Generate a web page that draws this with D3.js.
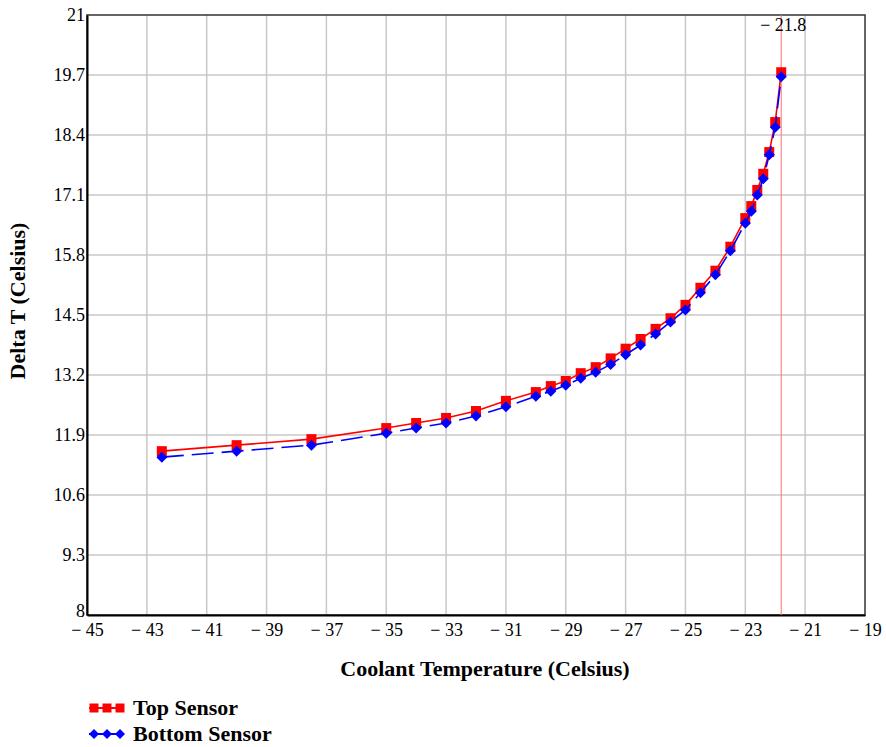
<!DOCTYPE html>
<html>
<head>
<meta charset="utf-8">
<script src="https://cdn.jsdelivr.net/npm/d3@7"></script>
<style>
  html, body { margin: 0; padding: 0; background: #fff; }
  svg { display: block; }
</style>
</head>
<body>
<svg id="chart" width="886" height="747"></svg>
<script>
// Coolant temperature readings (°C)
const coolant = [-42.5, -40, -37.5, -35, -34, -33, -32, -31, -30, -29.5, -29, -28.5, -28, -27.5, -27,
  -26.5, -26, -25.5, -25, -24.5, -24, -23.5, -23, -22.8, -22.6, -22.4, -22.2, -22.0, -21.8];
// Delta T measured by each sensor (°C)
const topSensor = [11.55, 11.68, 11.81, 12.05, 12.16, 12.27, 12.42, 12.64, 12.83, 12.96, 13.07, 13.24, 13.37, 13.56, 13.77,
  13.98, 14.20, 14.43, 14.72, 15.09, 15.46, 15.98, 16.60, 16.86, 17.21, 17.56, 18.03, 18.68, 19.76];
const bottomSensor = [11.42, 11.55, 11.68, 11.94, 12.05, 12.16, 12.31, 12.51, 12.74, 12.85, 12.98, 13.13, 13.26, 13.43, 13.64,
  13.85, 14.09, 14.35, 14.61, 14.98, 15.37, 15.89, 16.49, 16.75, 17.10, 17.45, 17.97, 18.57, 19.66];
// Axis ticks
const xTicks = [-45, -43, -41, -39, -37, -35, -33, -31, -29, -27, -25, -23, -21, -19];
const yTicks = [8, 9.3, 10.6, 11.9, 13.2, 14.5, 15.8, 17.1, 18.4, 19.7, 21];
// Marker line
const markerX = -21.8;
const seriesNames = ["Top Sensor", "Bottom Sensor"];

const FONT = "'Liberation Serif', 'DejaVu Serif', serif";

const svg = d3.select("#chart").attr("font-family", FONT);
const m = { left: 87, right: 865, top: 15, bottom: 615 };

const x = d3.scaleLinear().domain([-45, -19]).range([m.left, m.right]);
const y = d3.scaleLinear().domain([8, 21]).range([m.bottom, m.top]);

const fmtX = v => v < 0 ? "\u2212 " + Math.abs(v) : String(v);

// Grid lines
const grid = svg.append("g");
grid.selectAll(".gx").data(xTicks.slice(1, -1)).join("line")
  .attr("x1", d => x(d)).attr("x2", d => x(d))
  .attr("y1", m.top).attr("y2", m.bottom)
  .attr("stroke", "#c8c8c8").attr("stroke-width", 1.5);
grid.selectAll(".gy").data(yTicks.slice(1, -1)).join("line")
  .attr("x1", m.left).attr("x2", m.right)
  .attr("y1", d => y(d)).attr("y2", d => y(d))
  .attr("stroke", "#c8c8c8").attr("stroke-width", 1.5);

// Frame
svg.append("rect")
  .attr("x", m.left).attr("y", m.top)
  .attr("width", m.right - m.left).attr("height", m.bottom - m.top)
  .attr("fill", "none").attr("stroke", "#333").attr("stroke-width", 1.5);

// Axes (labels only; grid carries the tick positions)
const xAxis = svg.append("g").attr("transform", `translate(0,${m.bottom})`)
  .call(d3.axisBottom(x).tickValues(xTicks).tickSize(0).tickPadding(8).tickFormat(fmtX))
  .attr("font-family", FONT).attr("font-size", 18);
xAxis.select(".domain").attr("stroke", "#000").attr("stroke-width", 2);
xAxis.selectAll("text").attr("fill", "#000");

const yAxis = svg.append("g").attr("transform", `translate(${m.left},0)`)
  .call(d3.axisLeft(y).tickValues(yTicks).tickSize(0).tickPadding(2).tickFormat(d => String(d)))
  .attr("font-family", FONT).attr("font-size", 18);
yAxis.select(".domain").attr("stroke", "#000").attr("stroke-width", 2);
yAxis.selectAll("text").attr("fill", "#000");
yAxis.selectAll(".tick").filter(d => d === 8).select("text").attr("dy", "0.1em");

// Vertical marker at -21.8
svg.append("line")
  .attr("x1", x(markerX)).attr("x2", x(markerX))
  .attr("y1", m.top).attr("y2", m.bottom)
  .attr("stroke", "#ff7070").attr("stroke-width", 1);
svg.append("text")
  .attr("x", x(markerX) + 2).attr("y", y(21) + 16)
  .attr("text-anchor", "middle").attr("font-size", 18)
  .text(fmtX(markerX));

const line = d3.line().x(d => x(d[0])).y(d => y(d[1]));
const topPts = coolant.map((c, i) => [c, topSensor[i]]);
const botPts = coolant.map((c, i) => [c, bottomSensor[i]]);

const squarePath = s => `M${-s},${-s}H${s}V${s}H${-s}Z`;
const diamondPath = s => `M0,${-s}L${s},0L0,${s}L${-s},0Z`;

// Top sensor
svg.append("path").datum(topPts).attr("d", line)
  .attr("fill", "none").attr("stroke", "#ff0000").attr("stroke-width", 1.6);
svg.append("g").selectAll("path").data(topPts).join("path")
  .attr("transform", d => `translate(${x(d[0])},${y(d[1])})`)
  .attr("d", squarePath(5)).attr("fill", "#ff0000");

// Bottom sensor
svg.append("path").datum(botPts).attr("d", line)
  .attr("fill", "none").attr("stroke", "#0000ff").attr("stroke-width", 1.6)
  .attr("stroke-dasharray", "22,8");
svg.append("g").selectAll("path").data(botPts).join("path")
  .attr("transform", d => `translate(${x(d[0])},${y(d[1])})`)
  .attr("d", diamondPath(5.5)).attr("fill", "#0000ff");

// Axis titles
svg.append("text")
  .attr("x", 485).attr("y", 676)
  .attr("text-anchor", "middle").attr("font-size", 22).attr("font-weight", "bold")
  .text("Coolant Temperature (Celsius)");
svg.append("text")
  .attr("transform", "translate(25,301) rotate(-90)")
  .attr("text-anchor", "middle").attr("font-size", 22).attr("font-weight", "bold")
  .text("Delta T (Celsius)");

// Legend
const legend = svg.append("g");
const legendRows = [
  { name: seriesNames[0], color: "#ff0000", shape: squarePath(4.5), y: 708 },
  { name: seriesNames[1], color: "#0000ff", shape: diamondPath(5), y: 734 }
];
legendRows.forEach(r => {
  legend.append("line").attr("x1", 89).attr("x2", 124)
    .attr("y1", r.y).attr("y2", r.y)
    .attr("stroke", r.color).attr("stroke-width", 2);
  [94, 107, 120].forEach(cx => {
    legend.append("path").attr("transform", `translate(${cx},${r.y})`)
      .attr("d", r.shape).attr("fill", r.color);
  });
  legend.append("text").attr("x", 133).attr("y", r.y + 7)
    .attr("font-size", 22).attr("font-weight", "bold").text(r.name);
});
</script>
</body>
</html>
